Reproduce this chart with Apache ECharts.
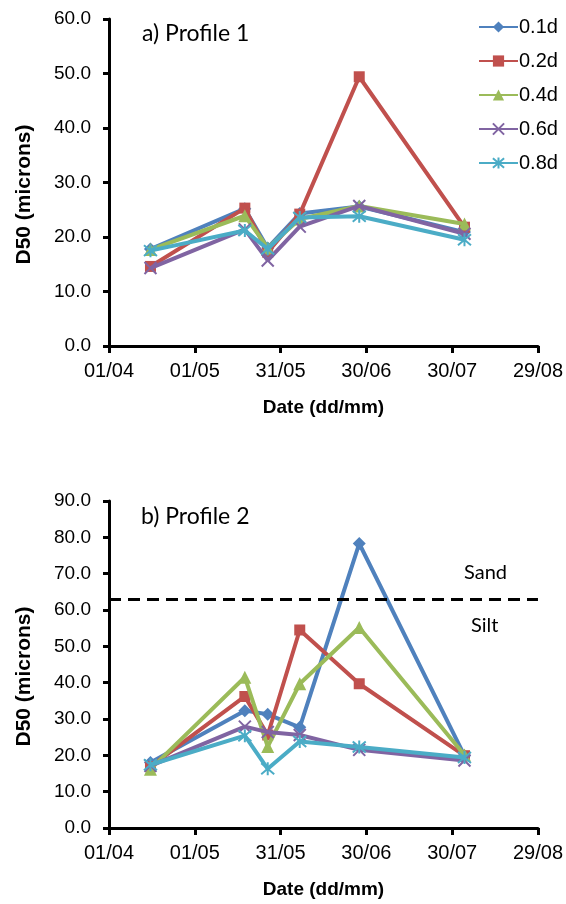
<!DOCTYPE html>
<html><head><meta charset="utf-8">
<script src="https://cdn.jsdelivr.net/npm/echarts@6/dist/echarts.min.js"></script>
<style>html,body{margin:0;padding:0;background:#fff}#c{width:566px;height:904px}</style>
</head><body><div id="c"></div>
<script>
// Tick labels of the x axis (days after 01/04 every 30 days)
const xTickLabels = ['01/04','01/05','31/05','30/06','30/07','29/08'];
// Sample dates, in days after 01/04
const sampleDays = [14.5, 47.5, 55.5, 66.7, 87.5, 124.3];
const seriesNames = ['0.1d','0.2d','0.4d','0.6d','0.8d'];
// Profile 1 D50 (microns)
const p1_01 = [17.8, 25.2, 18.0, 24.3, 25.6, 20.9];
const p1_02 = [14.6, 25.3, 17.2, 24.2, 49.4, 21.8];
const p1_04 = [17.7, 23.9, 18.0, 23.3, 25.7, 22.4];
const p1_06 = [14.3, 21.4, 15.7, 21.9, 25.7, 20.6];
const p1_08 = [17.5, 21.2, 17.8, 23.6, 23.8, 19.5];
// Profile 2 D50 (microns)
const p2_01 = [18.0, 32.3, 31.3, 27.7, 78.3, 19.9];
const p2_02 = [16.9, 36.2, 25.6, 54.5, 39.7, 19.9];
const p2_04 = [16.2, 41.5, 22.4, 39.7, 55.2, 20.1];
const p2_06 = [17.1, 27.9, 26.4, 25.6, 21.5, 18.6];
const p2_08 = [17.4, 25.4, 16.3, 23.8, 22.3, 19.4];
const sandSiltLimit = 63;

const colors = ['#4F81BD','#C0504D','#9BBB59','#8064A2','#4BACC6'];
const symbols = ['diamond','rect','triangle',
  'path://M0,0L10,10M10,0L0,10',
  'path://M5,0L5,10M0.8,0.8L9.2,9.2M9.2,0.8L0.8,9.2'];
const symSizes = [13, 11, 13, 12, 13];
const p1 = [p1_01,p1_02,p1_04,p1_06,p1_08];
const p2 = [p2_01,p2_02,p2_04,p2_06,p2_08];

const font = 'Liberation Sans, Arial, sans-serif';
function xAxis(gi){
  return {type:'value', gridIndex:gi, min:0, max:150, interval:30,
    name:'Date (dd/mm)', nameLocation:'middle', nameGap:52,
    nameTextStyle:{fontFamily:font, fontWeight:'bold', fontSize:19, color:'#000'},
    axisLine:{onZero:false, lineStyle:{color:'#000', width:3}},
    axisTick:{show:true, inside:false, length:7, lineStyle:{color:'#000', width:3}},
    axisLabel:{fontFamily:font, fontSize:20, color:'#000', margin:15,
      formatter:(v)=>xTickLabels[Math.round(v/30)]},
    splitLine:{show:false}};
}
function yAxis(gi, max){
  return {type:'value', gridIndex:gi, min:0, max:max, interval:10,
    name:'D50 (microns)', nameLocation:'middle', nameGap:74, nameRotate:90,
    nameTextStyle:{fontFamily:font, fontWeight:'bold', fontSize:21, color:'#000', padding:[0,24,0,0]},
    axisLine:{show:true, onZero:false, lineStyle:{color:'#000', width:3}},
    axisTick:{show:true, length:6, lineStyle:{color:'#000', width:3}},
    axisLabel:{fontFamily:font, fontSize:19, color:'#000', margin:18,
      formatter:(v)=>v.toFixed(1)},
    splitLine:{show:false}};
}
const series = [];
[p1,p2].forEach((P,gi)=>{
  P.forEach((vals,i)=>{
    const s = {name:seriesNames[i], type:'line', xAxisIndex:gi, yAxisIndex:gi,
      data: sampleDays.map((d,k)=>[d, vals[k]]),
      symbol:symbols[i], symbolSize:symSizes[i], showAllSymbol:true,
      lineStyle:{color:colors[i], width:4},
      itemStyle:{color:colors[i], borderColor:colors[i], borderWidth:(i>=3?2:0)},
      emphasis:{disabled:true}, animation:false, z:2+i};
    if(gi===1 && i===0){
      s.markLine = {silent:true, symbol:['none','none'], label:{show:false},
        lineStyle:{color:'#000', type:[12,7], width:3},
        data:[{yAxis:sandSiltLimit}]};
    }
    series.push(s);
  });
});
const chart = echarts.init(document.getElementById('c'));
chart.setOption({
  animation:false,
  color:colors,
  grid:[{left:109, top:19, width:431, height:327},
        {left:109, top:501, width:431, height:327}],
  xAxis:[xAxis(0), xAxis(1)],
  yAxis:[yAxis(0,60), yAxis(1,90)],
  legend:{orient:'vertical', left:473, top:12, itemGap:14, itemWidth:39, itemHeight:14,
    data:seriesNames,
    textStyle:{fontFamily:font, fontSize:20, color:'#000', padding:[0,0,0,-4]}},
  graphic:[
    {type:'text', left:142, top:22, style:{text:'a) Profile 1', font:'23px Lato, sans-serif', fill:'#000'}},
    {type:'text', left:141, top:505, style:{text:'b) Profile 2', font:'23px Lato, sans-serif', fill:'#000'}},
    {type:'text', left:464, top:563, style:{text:'Sand', font:'20px Lato, sans-serif', fill:'#000'}},
    {type:'text', left:471, top:616, style:{text:'Silt', font:'20px Lato, sans-serif', fill:'#000'}}
  ],
  series:series
});
</script></body></html>
